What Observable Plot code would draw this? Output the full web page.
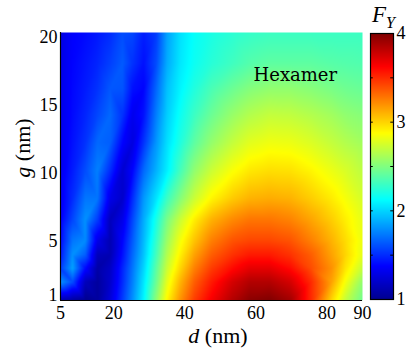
<!DOCTYPE html>
<html><head><meta charset="utf-8">
<script src="https://cdn.jsdelivr.net/npm/d3@7"></script>
<script src="https://cdn.jsdelivr.net/npm/@observablehq/plot@0.6"></script>
<style>
html,body{margin:0;padding:0;background:#fff;}
#wrap{position:relative;width:411px;height:354px;overflow:hidden;font-family:"Liberation Serif","Times New Roman",serif;}
#wrap svg{position:absolute;top:0;}
.lbl{position:absolute;font-family:"Liberation Serif","Times New Roman",serif;font-size:22px;color:#000;white-space:nowrap;line-height:1;}
#dbg{position:absolute;left:0;top:0;font:10px monospace;color:#c00;white-space:pre-wrap;width:411px;}
</style></head><body><div id="wrap"></div>
<script>
// d (nm) sample columns
const dValues = [5, 8.4, 12, 15.4, 19, 22.5, 25.3, 28.4, 32, 35, 38.8, 42.7, 47.5, 53.4, 58.2, 63.8, 69.7, 75.6, 81.3, 85.2, 90];
// g (nm) sample rows (first and last at the image edges)
const gValues = [0.63, 2, 3, 4, 5.05, 6.6, 8.15, 10.2, 12.25, 14.3, 16.25, 18.1, 20.37];
// F_Y, one row per g value, one column per d value
const FY = [
  [1.1,1.05,1.0,1.05,1.25,1.55,1.8,2.1,2.55,2.9,3.2,3.45,3.65,3.85,3.97,4.0,3.9,3.5,3.0,2.7,2.45],
  [1.8,1.6,1.15,1.05,1.2,1.5,1.75,2.05,2.45,2.8,3.1,3.35,3.55,3.75,3.85,3.85,3.75,3.5,3.15,2.85,2.55],
  [1.55,1.85,1.4,1.08,1.18,1.48,1.72,2.0,2.4,2.72,3.0,3.25,3.45,3.6,3.7,3.7,3.6,3.4,3.2,2.95,2.7],
  [1.45,1.8,1.65,1.15,1.12,1.42,1.68,1.95,2.33,2.65,2.92,3.15,3.35,3.48,3.55,3.55,3.48,3.35,3.15,3.0,2.8],
  [1.4,1.72,1.78,1.3,1.12,1.38,1.64,1.92,2.28,2.58,2.85,3.05,3.25,3.38,3.42,3.42,3.38,3.25,3.1,2.98,2.82],
  [1.36,1.58,1.8,1.55,1.15,1.3,1.58,1.88,2.2,2.48,2.72,2.92,3.1,3.22,3.28,3.28,3.24,3.14,3.02,2.92,2.8],
  [1.33,1.5,1.72,1.72,1.3,1.2,1.5,1.82,2.05,2.3,2.52,2.72,2.9,3.03,3.1,3.12,3.1,3.02,2.93,2.85,2.75],
  [1.32,1.45,1.6,1.75,1.5,1.22,1.38,1.68,1.9,2.08,2.33,2.55,2.72,2.86,2.94,2.97,2.96,2.9,2.82,2.76,2.68],
  [1.31,1.42,1.52,1.68,1.65,1.38,1.27,1.52,1.82,2.03,2.22,2.4,2.56,2.7,2.79,2.83,2.82,2.77,2.7,2.65,2.6],
  [1.3,1.4,1.48,1.58,1.68,1.52,1.32,1.42,1.75,1.98,2.16,2.3,2.44,2.57,2.65,2.7,2.69,2.65,2.6,2.55,2.52],
  [1.3,1.39,1.45,1.52,1.63,1.62,1.42,1.38,1.68,1.94,2.1,2.22,2.34,2.44,2.51,2.55,2.55,2.52,2.48,2.45,2.43],
  [1.29,1.38,1.43,1.48,1.56,1.64,1.52,1.42,1.6,1.88,2.06,2.16,2.24,2.31,2.37,2.4,2.4,2.4,2.38,2.37,2.36],
  [1.28,1.37,1.4,1.44,1.5,1.6,1.58,1.46,1.55,1.85,2.04,2.14,2.2,2.25,2.28,2.3,2.3,2.3,2.3,2.3,2.3]
];
const xTicks = [5, 20, 40, 60, 80, 90];
const yTicks = [1, 5, 10, 15, 20];
const cbTicks = [1, 2, 3, 4];
const cbMinor = [1.5, 2, 2.5, 3, 3.5];
const cbLevels = d3.range(256).map(i => 1 + (i + 0.5) * 3 / 256);
const jetColors = ["#00008f","#0000ff","#0080ff","#00ffff","#80ff80","#ffff00","#ff8000","#ff0000","#800000"];
const annotation = [{d: 71.1, g: 17.2, text: "Hexamer"}];

const points = [];
gValues.forEach((g, i) => dValues.forEach((d, j) => points.push({d, g, F: FY[i][j]})));

const jet = d3.piecewise(d3.interpolateRgb, jetColors);
const colorOpts = {type: "linear", domain: [1, 4], interpolate: jet, clamp: true};
const wrap = document.getElementById("wrap");
let dbg = "";
const fontStyle = {fontFamily: "Liberation Serif, Times New Roman, serif", fontSize: "18px", background: "transparent", color: "#000"};

try {
  const main = Plot.plot({
    width: 411, height: 354,
    marginLeft: 60, marginRight: 49, marginTop: 32, marginBottom: 54,
    style: fontStyle,
    x: {domain: [5, 90]},
    y: {domain: [0.63, 20.37]},
    color: colorOpts,
    marks: [
      Plot.raster(points, {x: "d", y: "g", fill: "F", interpolate: "barycentric", x1: 5, x2: 90, y1: 0.63, y2: 20.37}),
      Plot.ruleX([5], {stroke: "#000", strokeWidth: 1.2}),
      Plot.ruleY([0.63], {stroke: "#000", strokeWidth: 1.2}),
      Plot.axisX({ticks: xTicks, tickSize: 0, tickPadding: 6, label: null, tickFormat: d => String(d)}),
      Plot.axisY({ticks: yTicks, tickSize: 0, tickPadding: 3, label: null, tickFormat: d => String(d)}),
      Plot.text(annotation, {x: "d", y: "g", text: "text", fontFamily: "DejaVu Serif", fontSize: 18, fill: "#000"})
    ]
  });
  main.style.left = "0px";
  wrap.appendChild(main);
} catch (e) { dbg += "main: " + e.message + "\n"; }

try {
  const cb = Plot.plot({
    width: 60, height: 354,
    marginLeft: 19, marginRight: 18, marginTop: 33, marginBottom: 55,
    style: fontStyle,
    x: {domain: [0, 1], axis: null},
    y: {domain: [1, 4]},
    color: colorOpts,
    marks: [
      Plot.raster(cbLevels, {x: () => 0.5, y: d => d, fill: d => d, x1: 0, x2: 1, y1: 1, y2: 4, width: 1, height: 256, interpolate: "nearest"}),
      Plot.ruleY(cbMinor, {x1: 0, x2: 0.12, stroke: "#000"}),
      Plot.ruleY(cbMinor, {x1: 0.88, x2: 1, stroke: "#000"}),
      Plot.frame({stroke: "#000", strokeWidth: 1.2}),
      Plot.axisY({ticks: cbTicks, anchor: "right", tickSize: 0, tickPadding: 3, label: null, tickFormat: d => String(d)})
    ]
  });
  cb.style.left = "351px";
  wrap.appendChild(cb);
} catch (e) { dbg += "cb: " + e.message + "\n"; }

function addLabel(html, style) {
  const el = document.createElement("div");
  el.className = "lbl";
  el.innerHTML = html;
  Object.assign(el.style, style);
  wrap.appendChild(el);
}
addLabel("<i>d</i> (nm)", {left: "218px", top: "325px", transform: "translateX(-50%)"});
addLabel("<i>g</i> (nm)", {left: "23px", top: "148px", transform: "translate(-50%,-50%) rotate(-90deg)"});
addLabel("<i>F</i><span style='font-size:16px;position:relative;top:6px;'><i>Y</i></span>", {left: "372px", top: "3px", fontSize: "23px"});
if (dbg) { const d = document.createElement("div"); d.id = "dbg"; d.textContent = dbg; wrap.appendChild(d); }
</script>
</body></html>
